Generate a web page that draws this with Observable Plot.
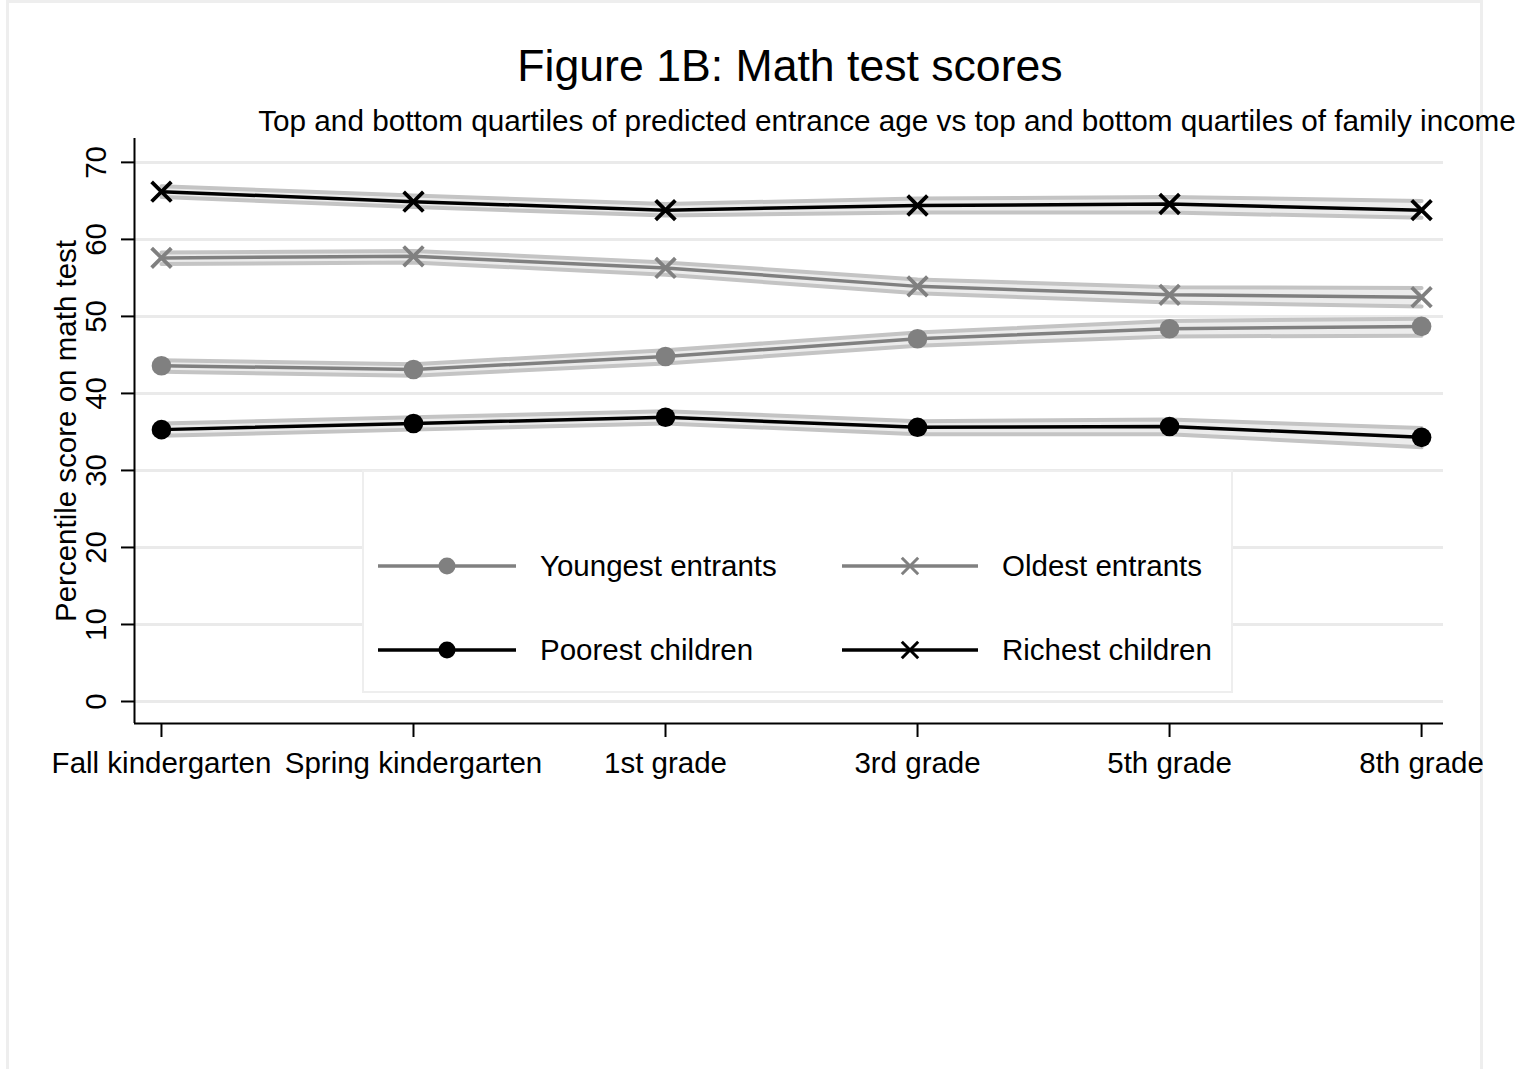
<!DOCTYPE html>
<html>
<head>
<meta charset="utf-8">
<script src="https://cdn.jsdelivr.net/npm/d3@7"></script>
<script src="https://cdn.jsdelivr.net/npm/@observablehq/plot@0.6"></script>
<style>
  html, body { margin: 0; padding: 0; background: #ffffff; }
  #page { position: relative; width: 1530px; height: 1069px; overflow: hidden; background: #fff;
          font-family: "Liberation Sans", Arial, Helvetica, sans-serif; color: #000; }
  #frame { position: absolute; left: 6px; top: 0; width: 1477px; height: 1080px; box-sizing: border-box;
           border-top: 3px solid #eeeeee; border-left: 3px solid #eeeeee; border-right: 3px solid #eeeeee; }
  #title { position: absolute; left: 790px; top: 44px; transform: translateX(-50%); white-space: nowrap;
           font-size: 44.6px; line-height: 1; }
  #subtitle { position: absolute; left: 887px; top: 106px; transform: translateX(-50%); white-space: nowrap;
              font-size: 29.7px; line-height: 1; }
  #chart { position: absolute; left: 0; top: 0; }
  #legend { position: absolute; left: 362px; top: 470px; }
</style>
</head>
<body>
<div id="page">
  <div id="frame"></div>
  <div id="chart"></div>
  <div id="title">Figure 1B: Math test scores</div>
  <div id="subtitle">Top and bottom quartiles of predicted entrance age vs top and bottom quartiles of family income</div>
  <div id="legend"></div>
</div>
<script>
// ---- Data ----
const grades = ["Fall kindergarten", "Spring kindergarten", "1st grade", "3rd grade", "5th grade", "8th grade"];
const yTicks = [0, 10, 20, 30, 40, 50, 60, 70];

const seriesNames = ["Youngest entrants", "Oldest entrants", "Poorest children", "Richest children"];
const seriesColors = ["#808080", "#808080", "#000000", "#000000"];
const seriesSymbols = ["circle", "times", "circle", "times"];

const youngest   = [43.6, 43.1, 44.8, 47.1, 48.4, 48.7];
const youngestLo = [42.8, 42.3, 43.9, 46.2, 47.4, 47.5];
const youngestHi = [44.3, 43.8, 45.6, 47.9, 49.4, 49.7];

const oldest     = [57.6, 57.8, 56.3, 53.9, 52.8, 52.5];
const oldestLo   = [56.8, 57.0, 55.4, 53.0, 51.8, 51.3];
const oldestHi   = [58.3, 58.5, 57.0, 54.8, 53.8, 53.7];

const poorest    = [35.3, 36.1, 36.9, 35.6, 35.7, 34.3];
const poorestLo  = [34.5, 35.3, 36.1, 34.7, 34.7, 33.0];
const poorestHi  = [36.1, 36.9, 37.7, 36.4, 36.6, 35.5];

const richest    = [66.2, 64.9, 63.8, 64.4, 64.6, 63.8];
const richestLo  = [65.5, 64.2, 63.1, 63.5, 63.5, 62.8];
const richestHi  = [66.9, 65.7, 64.6, 65.3, 65.5, 65.0];

// ---- Table built from the arrays ----
const seriesData = [
  [youngest, youngestLo, youngestHi],
  [oldest, oldestLo, oldestHi],
  [poorest, poorestLo, poorestHi],
  [richest, richestLo, richestHi]
];
const rows = [];
seriesData.forEach(([v, lo, hi], s) => {
  grades.forEach((g, i) => {
    rows.push({series: seriesNames[s], symbol: seriesSymbols[s], i, grade: g, value: v[i], lo: lo[i], hi: hi[i]});
  });
});

const xDomain = [-0.107, 5.087];
const yDomain = [-2.857, 73.1];
const FONT = '"Liberation Sans", Arial, Helvetica, sans-serif';

const chart = Plot.plot({
  width: 1530,
  height: 800,
  marginLeft: 134,
  marginRight: 87,
  marginTop: 138,
  marginBottom: 77,
  style: {fontFamily: FONT, fontSize: "29.5px", color: "#000", background: "transparent", overflow: "visible"},
  x: {type: "linear", domain: xDomain, axis: null},
  y: {type: "linear", domain: yDomain, axis: null},
  color: {domain: seriesNames, range: seriesColors},
  marks: [
    // grid
    Plot.ruleY(yTicks, {stroke: "#eaeaea", strokeWidth: 3}),
    // confidence bands
    Plot.areaY(rows, {x: "i", y1: "lo", y2: "hi", z: "series", fill: "#ececec"}),
    Plot.lineY(rows, {x: "i", y: "lo", z: "series", stroke: "#c4c4c4", strokeWidth: 4}),
    Plot.lineY(rows, {x: "i", y: "hi", z: "series", stroke: "#c4c4c4", strokeWidth: 4}),
    // main lines
    Plot.lineY(rows, {x: "i", y: "value", z: "series", stroke: "series", strokeWidth: 3.5}),
    // markers
    Plot.dot(rows.filter(d => d.symbol === "circle"), {x: "i", y: "value", fill: "series", r: 9.8, symbol: "circle"}),
    Plot.dot(rows.filter(d => d.symbol === "times"), {x: "i", y: "value", stroke: "series", r: 9, symbol: "times", strokeWidth: 3.8}),
    // axes lines
    Plot.ruleX([xDomain[0]], {stroke: "#000", strokeWidth: 2}),
    Plot.ruleY([yDomain[0]], {stroke: "#000", strokeWidth: 2}),
    // x ticks and labels
    Plot.axisX(grades.map((g, i) => i), {tickFormat: i => grades[i], tickSize: 14, tickPadding: 15, fontSize: 29.5, label: null, stroke: "#000", strokeWidth: 2}),
    // y ticks and rotated labels
    Plot.axisY(yTicks, {tickFormat: () => "", tickSize: 13, label: null, stroke: "#000", strokeWidth: 2}),
    Plot.text(yTicks, {y: d => d, text: d => String(d), frameAnchor: "left", textAnchor: "middle", dx: -38, rotate: -90, fontSize: 29.5}),
    Plot.text(["Percentile score on math test"], {text: d => d, frameAnchor: "left", textAnchor: "middle", dx: -68, rotate: -90, fontSize: 29.5})
  ]
});
document.getElementById("chart").appendChild(chart);

// ---- Legend (inside the plot region, white box) ----
const lw = 871, lh = 223;
const legend = d3.select("#legend").append("svg")
  .attr("width", lw).attr("height", lh)
  .style("font-family", FONT);
legend.append("rect").attr("x", 1).attr("y", 1).attr("width", lw - 2).attr("height", lh - 2)
  .attr("fill", "#fff").attr("stroke", "#eeeeee").attr("stroke-width", 2);
const cols = [{x0: 16, x1: 154, mx: 85, tx: 178}, {x0: 480, x1: 616, mx: 548, tx: 640}];
const rowsY = [96, 180];
seriesNames.forEach((name, k) => {
  const c = cols[k % 2], yy = rowsY[Math.floor(k / 2)];
  const g = legend.append("g");
  g.append("line").attr("x1", c.x0).attr("x2", c.x1).attr("y1", yy).attr("y2", yy)
    .attr("stroke", seriesColors[k]).attr("stroke-width", 3.5);
  if (seriesSymbols[k] === "circle") {
    g.append("circle").attr("cx", c.mx).attr("cy", yy).attr("r", 8.5).attr("fill", seriesColors[k]);
  } else {
    g.append("path").attr("d", d3.symbol(d3.symbolTimes, Math.PI * 7.5 * 7.5)())
      .attr("transform", `translate(${c.mx},${yy})`)
      .attr("stroke", seriesColors[k]).attr("stroke-width", 3).attr("fill", "none");
  }
  g.append("text").attr("x", c.tx).attr("y", yy).attr("dy", "0.35em")
    .attr("font-size", 29.5).attr("fill", "#000").text(name);
});
</script>
</body>
</html>
